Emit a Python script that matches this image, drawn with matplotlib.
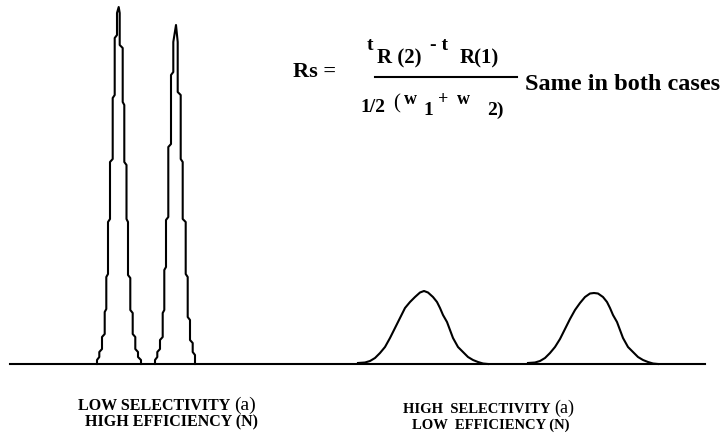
import matplotlib
matplotlib.use("Agg")
import matplotlib.pyplot as plt

# narrow peaks (high efficiency): x of each vertical step and the height it climbs to
peak1_left_x = [97, 99.3, 102, 104.7, 106.3, 108, 110, 112.7, 114.7, 117]
peak1_left_h = [4, 12, 27, 52, 87, 142, 202, 266, 326, 351]
peak1_top = (118.7, 357)
peak1_right_x = [119.7, 122.7, 124.3, 126.5, 128, 130.3, 132.7, 135.3, 138, 141]
peak1_right_h = [351, 316, 259, 199, 142, 86, 51, 27, 12, 4]

peak2_left_x = [155, 157.3, 160, 162.7, 164.3, 166, 168.3, 171, 173.3]
peak2_left_h = [4, 12, 24, 51, 94, 144, 217, 289, 322]
peak2_top = (176, 339)
peak2_right_x = [177.7, 180.7, 182.7, 185.7, 187.7, 190, 192.7, 195]
peak2_right_h = [322, 269, 202, 142, 87, 44, 21, 9]

# broad peaks (low efficiency)
peak3_x = [358, 365, 370, 375, 380, 385, 390, 395, 400, 405, 410, 415, 420, 424,
           428, 433, 437, 440, 443, 447, 450, 453, 458, 463, 468, 473, 478, 483, 488]
peak3_h = [1, 1.5, 3, 6, 11, 17, 26, 36, 46, 56, 62, 67, 71.5, 73,
           71.5, 67, 62, 56, 49, 42, 34, 26, 17, 12, 7, 4, 2, 0.5, 0]
peak4_x = [528, 535, 540, 545, 550, 555, 560, 565, 570, 575, 580, 585, 590, 594,
           598, 603, 607, 610, 613, 617, 620, 623, 628, 633, 638, 643, 648, 653, 658]
peak4_h = [1, 1.5, 3, 6, 11, 17, 25, 35, 45, 54, 61, 67, 70.5, 71,
           70.5, 67, 62, 56, 49, 42, 34, 26, 17, 12, 7, 4, 2, 0.5, 0]

baseline_x = [10, 705]


def stair(left_x, left_h, top, right_x, right_h, jog=3):
    xs, hs = [], []
    for i, x in enumerate(left_x):
        start = left_h[i - 1] + jog if i > 0 else 0
        xs += [x, x]
        hs += [start, left_h[i]]
    xs.append(top[0])
    hs.append(top[1])
    for i, x in enumerate(right_x):
        end = right_h[i + 1] + jog if i + 1 < len(right_h) else 0
        xs += [x, x]
        hs += [right_h[i], end]
    return xs, hs


fig = plt.figure(figsize=(7.27, 4.42), dpi=100)
ax = fig.add_axes([0, 0, 1, 1])
ax.set_xlim(0, 727)
ax.set_ylim(-78, 364)
ax.axis('off')

lw = 1.5
ax.plot(baseline_x, [0, 0], color='black', lw=lw)
for xs, hs in [stair(peak1_left_x, peak1_left_h, peak1_top, peak1_right_x, peak1_right_h),
               stair(peak2_left_x, peak2_left_h, peak2_top, peak2_right_x, peak2_right_h),
               (peak3_x, peak3_h), (peak4_x, peak4_h)]:
    ax.plot(xs, hs, color='black', lw=lw, solid_joinstyle='round')

serif = ['Liberation Serif', 'DejaVu Serif']
bold = dict(family=serif, weight='bold', color='black')
reg = dict(family=serif, weight='normal', color='black')


def put(x, ypix, s, size, props=bold, ha='left', va='baseline'):
    return ax.text(x, 364 - ypix, s, fontsize=size, ha=ha, va=va, **props)


# resolution formula
put(293, 77, 'Rs =', 16)
put(367, 50, 't', 14)
put(377, 63, 'R (2)', 15)
put(430, 50, '- t', 14)
put(460, 63, 'R(1)', 15)
ax.plot([375, 517], [364 - 77, 364 - 77], color='black', lw=1.5)
put(360, 112, '1/2', 14)
put(393, 108, '(', 15, reg)
put(404, 104, 'w', 13)
put(423, 115, '1', 14)
put(438, 104, '+', 13)
put(457, 104, 'w', 13)
put(487, 115, '2)', 14)
put(525, 90, 'Same in both cases', 17.5)

# bottom captions; "(a)" follows the bold part in a regular face
fig.canvas.draw()
renderer = fig.canvas.get_renderer()


def caption(x, ypix, s, size, tail_size):
    t = put(x, ypix, s, size)
    bb = t.get_window_extent(renderer)
    x_end = ax.transData.inverted().transform((bb.x1, bb.y0))[0]
    put(x_end + 4, ypix, '(a)', tail_size, reg)


caption(78, 410, 'LOW SELECTIVITY', 11.5, 14)
put(85, 426, 'HIGH EFFICIENCY (N)', 11.5)
caption(403, 413, 'HIGH  SELECTIVITY', 10.5, 13)
put(412, 429, 'LOW  EFFICIENCY (N)', 10.5)

fig.savefig('out.png', dpi=100)
